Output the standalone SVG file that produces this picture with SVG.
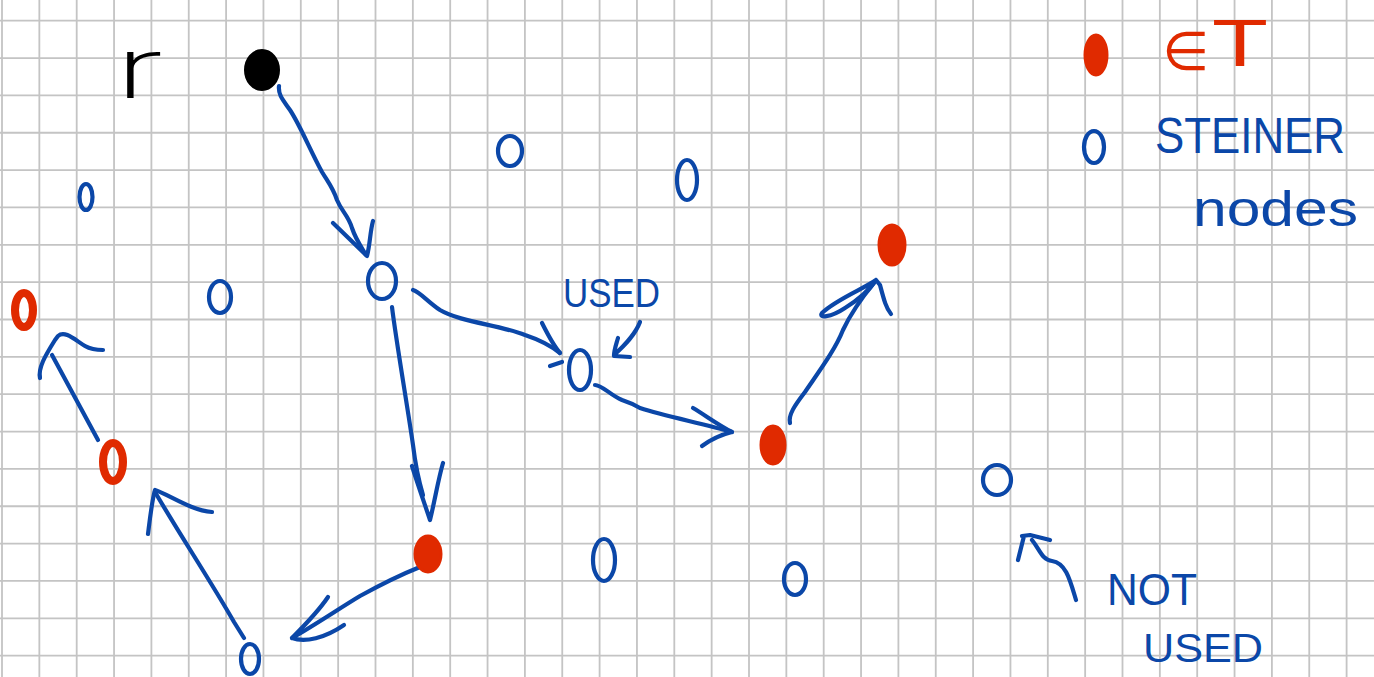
<svg xmlns="http://www.w3.org/2000/svg" width="1374" height="677" viewBox="0 0 1374 677">
<style>
.grid{stroke:#c4c4c4;stroke-width:1.8;fill:none}
.edge{stroke:#0b47a8;stroke-width:4.2;fill:none;stroke-linecap:round;stroke-linejoin:round}
.steiner{stroke:#0b47a8;stroke-width:4.2;fill:none}
.term{fill:#e02a00;stroke:#e02a00;stroke-width:3}
.termring{fill:none;stroke:#e02a00;stroke-width:8}
.root{fill:#000;stroke:#000;stroke-width:2}
.lbl{font-family:"Liberation Sans",Arial,sans-serif;fill:#0b47a8}
</style>
<rect width="1374" height="677" fill="#fff"/>
<path class="grid" d="M2,0V677M39.35,0V677M76.7,0V677M114.05,0V677M151.4,0V677M188.75,0V677M226.1,0V677M263.45,0V677M300.8,0V677M338.15,0V677M375.5,0V677M412.85,0V677M450.2,0V677M487.55,0V677M524.9,0V677M562.25,0V677M599.6,0V677M636.95,0V677M674.3,0V677M711.65,0V677M749,0V677M786.35,0V677M823.7,0V677M861.05,0V677M898.4,0V677M935.75,0V677M973.1,0V677M1010.45,0V677M1047.8,0V677M1085.15,0V677M1122.5,0V677M1159.85,0V677M1197.2,0V677M1234.55,0V677M1271.9,0V677M1309.25,0V677M1346.6,0V677M0,20.7H1374M0,58.05H1374M0,95.4H1374M0,132.75H1374M0,170.1H1374M0,207.45H1374M0,244.8H1374M0,282.15H1374M0,319.5H1374M0,356.85H1374M0,394.2H1374M0,431.55H1374M0,468.9H1374M0,506.25H1374M0,543.6H1374M0,580.95H1374M0,618.3H1374M0,655.65H1374"/>

<g id="connectors">
<path class="edge" d="M279,86 C278,95 283,100 290,110 C300,125 310,150 322,172 C328,182 333,188 337,200 C342,212 348,215 352,228 C356,240 362,248 366,255"/>
<path class="edge" d="M333,223 L366,255 M373,221 C370,232 370,245 367,256"/>
<path class="edge" d="M392,307 C396,340 408,410 413,445 C416,470 420,485 423,495"/>
<path class="edge" d="M412,466 C418,485 425,505 430,520 C435,500 438,480 443,463"/>
<path class="edge" d="M413,290 C420,292 428,302 440,310 C460,322 500,325 525,335 C540,340 550,345 560,353"/>
<path class="edge" d="M542,323 C548,335 553,345 560,353 M550,366 L562,362"/>
<path class="edge" d="M595,385 C602,385 610,395 622,400 C628,402 635,405 640,408 C665,416 700,423 732,432"/>
<path class="edge" d="M693,408 C705,415 718,425 732,432 C720,435 710,440 702,446"/>
<path class="edge" d="M790,423 C788,415 795,405 805,392 C820,370 835,350 843,330 C850,315 860,300 874,283"/>
<path class="edge" d="M876,280 C865,288 835,300 822,313 C818,318 830,318 845,308 C858,300 868,292 876,280 L880,285 C884,300 886,308 891,314"/>
<path class="edge" d="M420,567 C400,575 380,585 360,596 C340,608 315,625 292,638"/>
<path class="edge" d="M328,597 C318,612 305,625 292,638 C305,643 325,638 344,625"/>
<path class="edge" d="M244,638 L234,622 C210,580 180,535 155,492"/>
<path class="edge" d="M148,534 C150,518 152,500 155,490 C170,495 190,510 212,512"/>
<path class="edge" d="M98,440 L52,355"/>
<path class="edge" d="M40,378 C38,368 45,356 55,340 L58,336 C65,330 75,340 85,346 C92,350 98,350 103,350"/>
<path class="edge" d="M640,322 C635,335 625,345 614,355 M618,338 C616,345 614,350 614,356 L630,357"/>
<path class="edge" d="M1076,600 C1070,580 1066,563 1052,561 C1042,560 1040,550 1032,540 M1050,540 L1030,535 L1022,536 M1024,536 L1018,560"/>
</g>

<g id="root"><ellipse class="root" cx="262" cy="70" rx="17" ry="20"/></g>
<g id="root-label"><text x="114" y="98" font-family="Inter, Roboto, 'Liberation Sans', sans-serif" font-weight="200" font-size="84" textLength="50" lengthAdjust="spacingAndGlyphs" fill="#000">r</text></g>

<g id="t-legend"><ellipse class="term" cx="1096" cy="55" rx="11" ry="20"/></g>
<g id="t1"><ellipse class="term" cx="892" cy="245" rx="13" ry="20"/></g>
<g id="t2"><ellipse class="term" cx="773" cy="445" rx="12" ry="19"/></g>
<g id="t3"><ellipse class="term" cx="428" cy="554" rx="13" ry="18"/></g>
<g id="t4"><ellipse class="termring" cx="24" cy="310" rx="9" ry="17"/></g>
<g id="t5"><ellipse class="termring" cx="113" cy="462" rx="10" ry="19"/></g>

<g id="s-legend"><ellipse class="steiner" cx="1094" cy="147" rx="10" ry="16"/></g>
<g id="s1"><ellipse class="steiner" cx="86" cy="197" rx="6.5" ry="13"/></g>
<g id="s2"><ellipse class="steiner" cx="220" cy="297" rx="11" ry="16"/></g>
<g id="s3"><ellipse class="steiner" cx="382" cy="281" rx="14" ry="18"/></g>
<g id="s4"><ellipse class="steiner" cx="510" cy="151" rx="12" ry="15"/></g>
<g id="s5"><ellipse class="steiner" cx="687" cy="180" rx="10" ry="20"/></g>
<g id="s6"><ellipse class="steiner" cx="580" cy="370" rx="11" ry="20"/></g>
<g id="s7"><ellipse class="steiner" cx="250" cy="659" rx="9" ry="15"/></g>
<g id="s8"><ellipse class="steiner" cx="604" cy="560" rx="11" ry="21"/></g>
<g id="s9"><ellipse class="steiner" cx="795" cy="579" rx="11" ry="16"/></g>
<g id="s10"><ellipse class="steiner" cx="997" cy="480" rx="14" ry="15"/></g>

<g id="legend-terminal"><text fill="#e02a00" font-family="Liberation Sans, Arial, sans-serif"><tspan x="1162" y="70" font-size="54" font-family="DejaVu Sans, sans-serif">∈</tspan><tspan x="1212" y="66" font-size="66" textLength="56" lengthAdjust="spacingAndGlyphs">T</tspan></text></g>
<g id="legend-steiner">
<text class="lbl" x="1155" y="153" font-size="50" textLength="190" lengthAdjust="spacingAndGlyphs">STEINER</text>
<text class="lbl" x="1193" y="226" font-size="50" textLength="165" lengthAdjust="spacingAndGlyphs">nodes</text>
</g>
<g id="label-used"><text class="lbl" x="563" y="307" font-size="40" textLength="97" lengthAdjust="spacingAndGlyphs">USED</text></g>
<g id="label-not-used">
<text class="lbl" x="1107" y="605" font-size="44" textLength="90" lengthAdjust="spacingAndGlyphs">NOT</text>
<text class="lbl" x="1143" y="662" font-size="40" textLength="120" lengthAdjust="spacingAndGlyphs">USED</text>
</g>
</svg>
